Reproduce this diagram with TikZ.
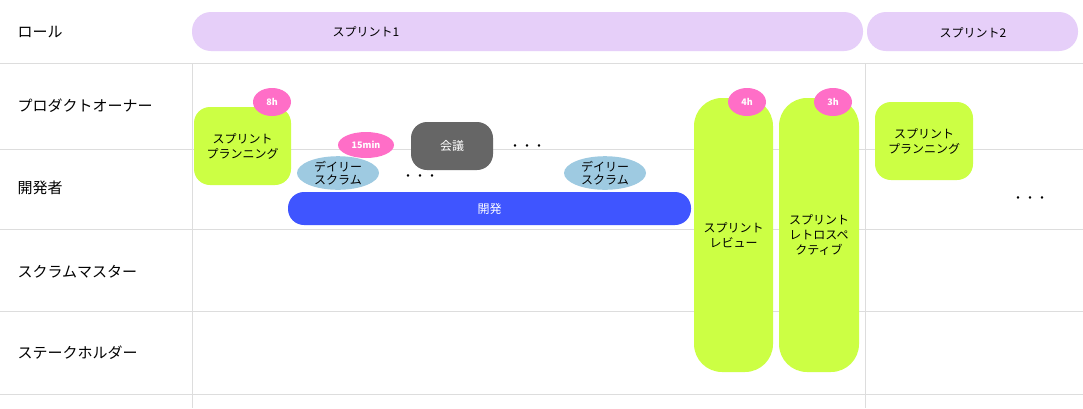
\documentclass[tikz,border=0pt]{standalone}
\usepackage{fontspec}
\setmainfont{Noto Sans CJK JP}
\usetikzlibrary{positioning}
\definecolor{sprintbar}{HTML}{E6CFF9}
\definecolor{lime}{HTML}{CCFF44}
\definecolor{badgepink}{HTML}{FF6EC7}
\definecolor{scrumblue}{HTML}{9ECAE1}
\definecolor{devblue}{HTML}{3F55FF}
\definecolor{gridgray}{HTML}{DDDDDD}
\tikzset{
  role/.style={anchor=west, font=\fontsize{15}{18}\selectfont},
  bar/.style={rounded corners=19pt, fill=sprintbar, inner sep=0pt},
  event/.style={rounded corners=16pt, fill=lime, align=center, inner sep=0pt, font=\fontsize{12}{15}\selectfont},
  badge/.style={ellipse, fill=badgepink, text=white, inner sep=0pt, font=\fontsize{9}{10}\bfseries\selectfont},
  daily/.style={ellipse, fill=scrumblue, minimum width=82pt, minimum height=32pt, inner sep=0pt, align=center, font=\fontsize{12}{13}\selectfont},
  dots/.style={font=\fontsize{12}{14}\selectfont}
}
\usetikzlibrary{shapes.geometric}
\begin{document}
\begin{tikzpicture}[x=1pt,y=-1pt]
    \useasboundingbox[fill=white] (0,0) rectangle (1083,408);
    % Grid
    \foreach \y in {63,149,229,311,394}
        \draw[gridgray] (0,\y) -- (1083,\y);
    \foreach \x in {192,865}
        \draw[gridgray] (\x,63) -- (\x,408);
    % Roles
    \node[role] (role) at (14,32) {ロール};
    \node[role] (po) at (14,106) {プロダクトオーナー};
    \node[role] (dev) at (14,188) {開発者};
    \node[role] (sm) at (14,272) {スクラムマスター};
    \node[role] (sh) at (14,353) {ステークホルダー};
    % Sprints
    \node[bar, minimum width=671pt, minimum height=39pt] (s1) at (527.5,31.5) {};
    \node[font=\fontsize{12}{14}\selectfont] (s1t) at (366,32) {スプリント1};
    \node[bar, minimum width=211pt, minimum height=39pt] (s2) at (972.5,31.5) {};
    \node[font=\fontsize{12}{14}\selectfont] (s2t) at (973,33) {スプリント2};
    % Events
    \node[event, minimum width=97pt, minimum height=78pt] (plan1) at (242.5,146) {スプリント\\プランニング};
    \node[badge, minimum width=38pt, minimum height=28pt] (b8) at (272,102) {8h};
    \node[daily] (daily1) at (338,173) {デイリー\\スクラム};
    \node[badge, minimum width=56pt, minimum height=26pt] (b15) at (366,145) {15min};
    \node[rounded corners=16pt, fill=black!60, text=white, minimum width=82pt, minimum height=48pt, font=\fontsize{12}{14}\selectfont] (mtg) at (452,146) {会議};
    \node[dots] (d1) at (527,148) {・・・};
    \node[dots] (d2) at (420,178) {・・・};
    \node[daily] (daily2) at (605,173) {デイリー\\スクラム};
    \node[rounded corners=16pt, fill=devblue, text=white, minimum width=403pt, minimum height=33pt, font=\fontsize{12}{14}\selectfont] (work) at (489.5,208.5) {開発};
    \node[event, rounded corners=28pt, minimum width=79pt, minimum height=274pt] (review) at (733.5,235) {スプリント\\レビュー};
    \node[badge, minimum width=38pt, minimum height=28pt] (b4) at (747,102) {4h};
    \node[event, rounded corners=28pt, minimum width=80pt, minimum height=274pt] (retro) at (819,235) {スプリント\\レトロスペ\\クティブ};
    \node[badge, minimum width=38pt, minimum height=28pt] (b3) at (833,102) {3h};
    \node[event, minimum width=98pt, minimum height=78pt] (plan2) at (924,141) {スプリント\\プランニング};
    \node[dots] (d3) at (1030,200) {・・・};
\end{tikzpicture}
\end{document}
